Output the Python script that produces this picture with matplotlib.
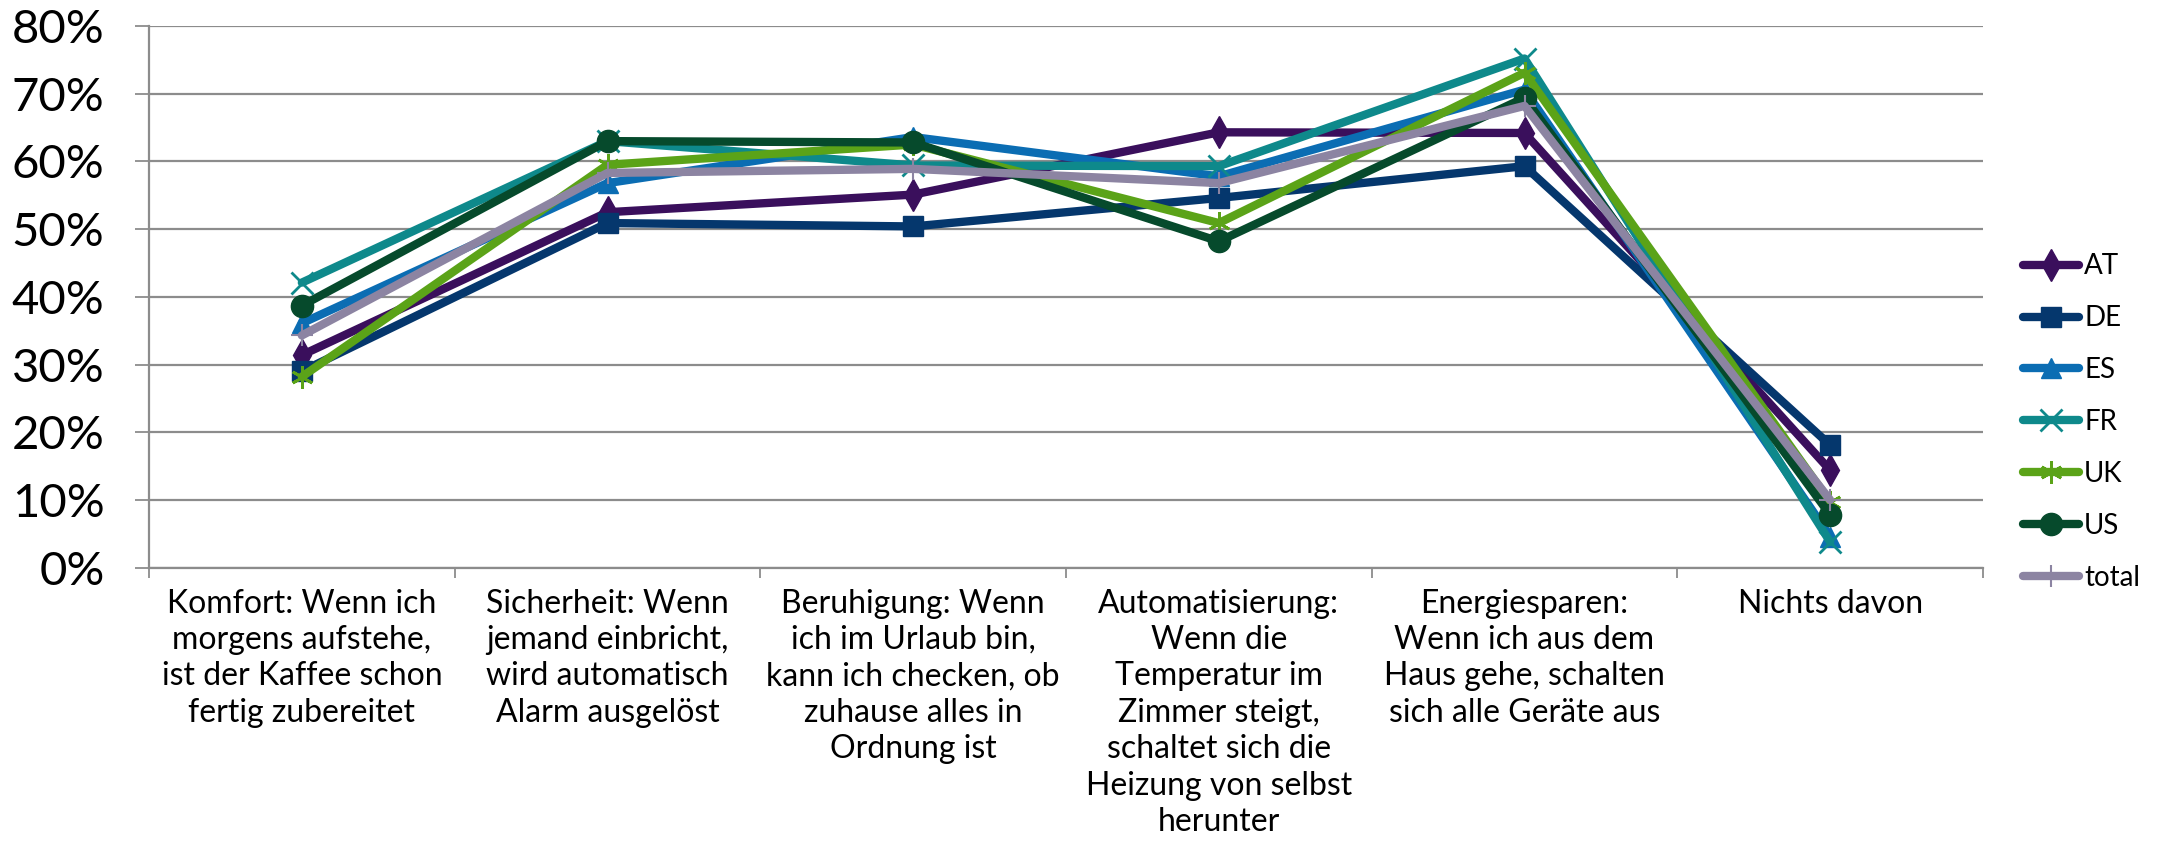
import matplotlib.pyplot as plt
from matplotlib.ticker import PercentFormatter

plt.rcParams['font.family'] = ['Lato', 'DejaVu Sans']

categories = [
    "Komfort: Wenn ich\nmorgens aufstehe,\nist der Kaffee schon\nfertig zubereitet",
    "Sicherheit: Wenn\njemand einbricht,\nwird automatisch\nAlarm ausgelöst",
    "Beruhigung: Wenn\nich im Urlaub bin,\nkann ich checken, ob\nzuhause alles in\nOrdnung ist",
    "Automatisierung:\nWenn die\nTemperatur im\nZimmer steigt,\nschaltet sich die\nHeizung von selbst\nherunter",
    "Energiesparen:\nWenn ich aus dem\nHaus gehe, schalten\nsich alle Geräte aus",
    "Nichts davon",
]

# share of respondents in %
at = [31.4, 52.5, 55.1, 64.3, 64.2, 14.4]
de = [29.0, 50.9, 50.4, 54.6, 59.3, 18.1]
es = [36.1, 56.8, 63.6, 57.8, 70.6, 4.6]
fr = [42.1, 63.0, 59.4, 59.3, 75.2, 3.8]
uk = [28.2, 59.5, 62.5, 50.9, 73.1, 9.7]
us = [38.7, 63.0, 62.8, 48.2, 69.4, 7.8]
total = [34.3, 58.3, 58.9, 56.8, 68.2, 10.0]

series = [
    ("AT", at, "#3a0f5c", "d", 16, 1),
    ("DE", de, "#05376d", "s", 14, 1),
    ("ES", es, "#0b6db3", "^", 14, 1),
    ("FR", fr, "#0e898b", "x", 16, 2),
    ("UK", uk, "#5ba318", (6, 2, 0), 16, 2),
    ("US", us, "#064a2c", "o", 16, 1),
    ("total", total, "#8c84a2", "+", 16, 1.5),
]

fig = plt.figure(figsize=(21.68, 8.41), dpi=100)
ax = fig.add_axes([149 / 2168, 1 - 567.7 / 841, (1983 - 149) / 2168, (567.7 - 26) / 841])

x = list(range(len(categories)))
for name, vals, col, mk, ms, mew in series:
    ax.plot(x, vals, color=col, lw=6, marker=mk, markersize=ms, markeredgewidth=mew,
            markerfacecolor=col, markeredgecolor=col, label=name,
            solid_capstyle='round', solid_joinstyle='round')

ax.set_xlim(-0.5, 5.5)
ax.set_ylim(0, 80)
ax.set_yticks(range(0, 81, 10))
ax.yaxis.set_major_formatter(PercentFormatter(decimals=0))
ax.grid(axis='y', color='#8c8c8c', lw=1.6)
ax.set_axisbelow(True)

ax.set_xticks([i - 0.5 for i in range(7)])
ax.set_xticklabels([])
ax.set_xticks(x, minor=True)
ax.set_xticklabels(categories, minor=True, fontsize=23, linespacing=1.27, va='top')
ax.tick_params(axis='x', which='minor', length=0, pad=15)
ax.tick_params(axis='x', which='major', length=7, width=1.3, color='#8c8c8c')
ax.tick_params(axis='y', length=10, width=1.3, color='#8c8c8c', labelsize=34, pad=22)

for s in ['top', 'right']:
    ax.spines[s].set_visible(False)
for s in ['left', 'bottom']:
    ax.spines[s].set_color('#8c8c8c')
    ax.spines[s].set_linewidth(1.6)

fig.legend(loc='center left', bbox_to_anchor=(2023 / 2168, 1 - 422 / 841), frameon=False,
           fontsize=20, handlelength=2.0, handletextpad=0.2, labelspacing=0.93,
           borderpad=0, borderaxespad=0)

fig.savefig('out.png', dpi=100)
